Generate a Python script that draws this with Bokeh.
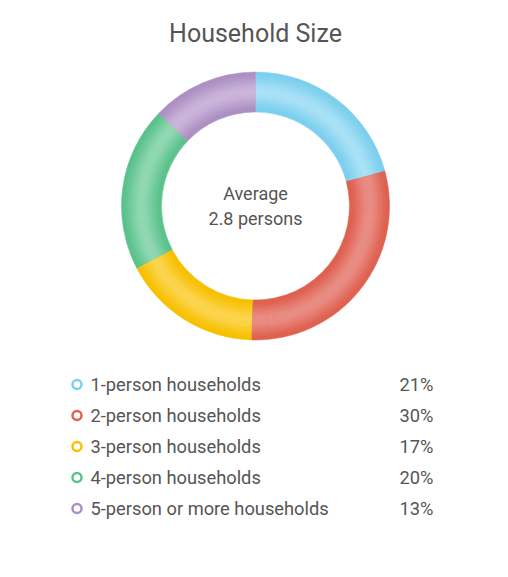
import math

from bokeh.core.properties import value
from bokeh.embed import file_html
from bokeh.models import ColumnDataSource, Range1d
from bokeh.plotting import figure
from bokeh.resources import INLINE

# data
categories = ["1-person households", "2-person households", "3-person households",
              "4-person households", "5-person or more households"]
shares = [21, 30, 17, 20, 13]
pct_labels = ["21%", "30%", "17%", "20%", "13%"]
title_text = "Household Size"
center_lines = ["Average", "2.8 persons"]

# styling
edge_colors = ["#7ccfee", "#df6150", "#f7c000", "#5bc28c", "#ad90c3"]
mid_colors = ["#a9e1f6", "#e98d84", "#fbd54e", "#91d8b3", "#cbb5da"]
text_color = "#555555"
font = "Roboto"

W, H = 492, 561
cx, cy = 255, H - 205.5
r_in, r_out = 94, 134


def mix(c1, c2, t):
    a = [int(c1[i:i + 2], 16) for i in (1, 3, 5)]
    b = [int(c2[i:i + 2], 16) for i in (1, 3, 5)]
    return "#%02x%02x%02x" % tuple(round(x + (y - x) * t) for x, y in zip(a, b))


total = sum(shares)
starts, ends = [], []
acc = 0
for s in shares:
    starts.append(math.pi / 2 - 2 * math.pi * acc / total)
    acc += s
    ends.append(math.pi / 2 - 2 * math.pi * acc / total)

p = figure(width=W, height=H, x_range=Range1d(0, W), y_range=Range1d(0, H),
           output_backend="svg", toolbar_location=None, min_border=0)
p.axis.visible = False
p.grid.visible = False
p.outline_line_color = None
p.background_fill_color = "white"
p.border_fill_color = "white"

# base ring
src = ColumnDataSource(dict(start=starts, end=ends, color=edge_colors))
p.annular_wedge(x=cx, y=cy, inner_radius=r_in, outer_radius=r_out,
                start_angle="start", end_angle="end", direction="clock",
                fill_color="color", line_color="color", line_width=0.5, source=src)

# cylinder shading bands
n = 20
step = (r_out - r_in) / n
for k in range(2, n - 2):
    t = (k + 0.5) / n
    f = math.sin(math.pi * t) ** 2
    cols = [mix(e, m, f) for e, m in zip(edge_colors, mid_colors)]
    band = ColumnDataSource(dict(start=starts, end=ends, color=cols))
    p.annular_wedge(x=cx, y=cy, inner_radius=r_in + k * step,
                    outer_radius=r_in + (k + 1) * step + 0.4,
                    start_angle="start", end_angle="end", direction="clock",
                    fill_color="color", line_color=None, source=band)

# title and centre label
p.text(x=[cx], y=[H - 33], text=[title_text], text_font=value(font),
       text_font_size="25px", text_color=text_color,
       text_align="center", text_baseline="middle")
p.text(x=[cx, cx], y=[H - 193, H - 218], text=center_lines, text_font=value(font),
       text_font_size="18px", text_color=text_color,
       text_align="center", text_baseline="middle")

# legend rows
row_y = [H - (384 + 31 * i) for i in range(len(categories))]
leg = ColumnDataSource(dict(y=row_y, name=categories, pct=pct_labels, color=edge_colors))
p.scatter(x=76.5, y="y", marker="circle", size=9, fill_color="white",
          line_color="color", line_width=2.5, source=leg)
p.text(x=90, y="y", text="name", text_font=value(font), text_font_size="18.3px",
       text_color=text_color, text_baseline="middle", source=leg)
p.text(x=399, y="y", text="pct", text_font=value(font), text_font_size="18.3px",
       text_color=text_color, text_baseline="middle", source=leg)

open("out.html", "w").write(file_html(p, INLINE))
